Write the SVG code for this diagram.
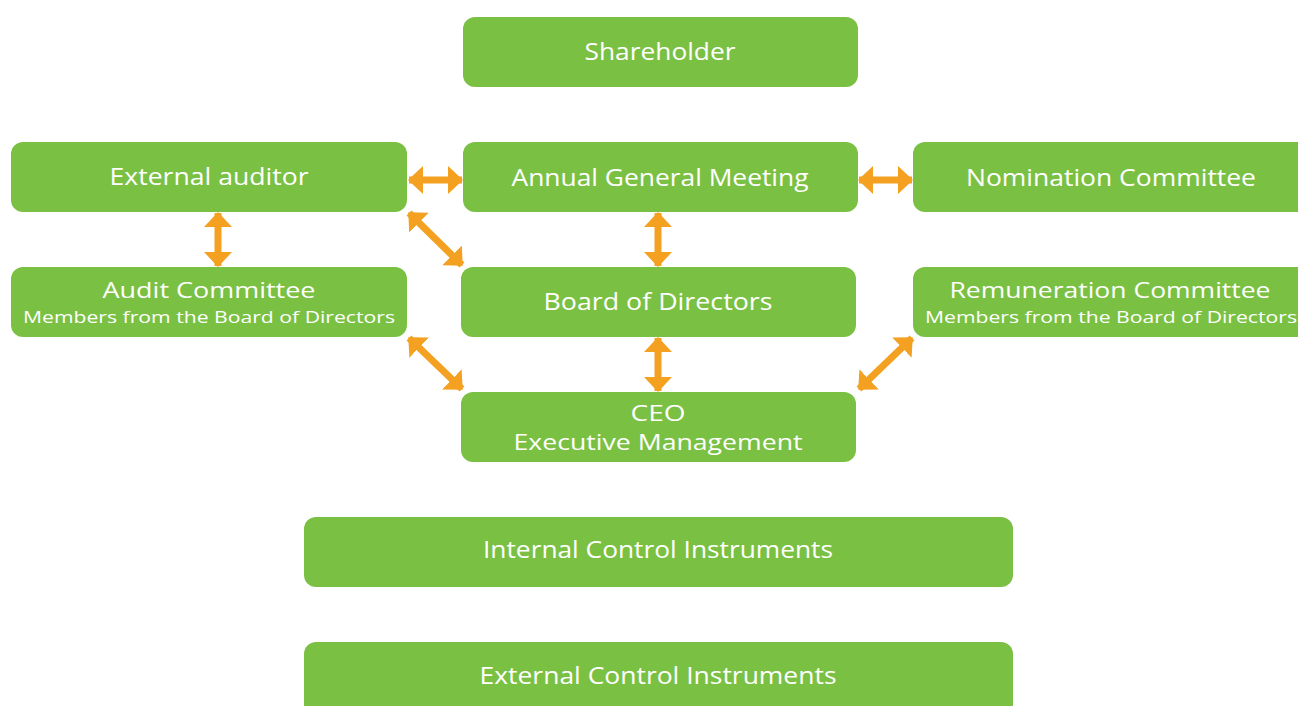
<svg xmlns="http://www.w3.org/2000/svg" width="1298" height="706" viewBox="0 0 1298 706">
<style>
.box{fill:#7AC143}
.t{font-family:"Open Sans","DejaVu Sans",sans-serif;font-size:23px;fill:#fff;text-anchor:middle;font-weight:500}
.t2{font-family:"Open Sans","DejaVu Sans",sans-serif;font-size:22px;fill:#fff;text-anchor:middle;font-weight:500}
.s{font-family:"Open Sans","DejaVu Sans",sans-serif;font-size:16.5px;fill:#fff;text-anchor:middle;font-weight:500}
.c{stroke:#F4A021;stroke-width:7;fill:none;marker-start:url(#ah);marker-end:url(#ah)}
</style>
<defs>
<marker id="ah" markerUnits="userSpaceOnUse" markerWidth="15" markerHeight="30" refX="14" refY="15" orient="auto-start-reverse" viewBox="0 0 15 30">
<path d="M0 1 L15 15 L0 29 Z" fill="#F4A021"/>
</marker>
</defs>
<rect width="1298" height="706" fill="#fff"/>
<g id="shareholder"><rect class="box" x="463" y="17" width="395" height="70" rx="12"/><text class="t" x="660" y="60" textLength="151" lengthAdjust="spacingAndGlyphs">Shareholder</text></g>
<g id="external-auditor"><rect class="box" x="11" y="142" width="396" height="70" rx="12"/><text class="t" x="209" y="185" textLength="199" lengthAdjust="spacingAndGlyphs">External auditor</text></g>
<g id="agm"><rect class="box" x="463" y="142" width="395" height="70" rx="12"/><text class="t" x="660" y="186" textLength="297" lengthAdjust="spacingAndGlyphs">Annual General Meeting</text></g>
<g id="nomination"><rect class="box" x="913" y="142" width="400" height="70" rx="12"/><text class="t" x="1111" y="186" textLength="290" lengthAdjust="spacingAndGlyphs">Nomination Committee</text></g>
<g id="audit-committee"><rect class="box" x="11" y="267" width="396" height="70" rx="12"/><text class="t2" x="209" y="298" textLength="213" lengthAdjust="spacingAndGlyphs">Audit Committee</text><text class="s" x="209" y="323" textLength="372" lengthAdjust="spacingAndGlyphs">Members from the Board of Directors</text></g>
<g id="board"><rect class="box" x="461" y="267" width="395" height="70" rx="12"/><text class="t" x="658" y="310" textLength="229" lengthAdjust="spacingAndGlyphs">Board of Directors</text></g>
<g id="remuneration"><rect class="box" x="913" y="267" width="400" height="70" rx="12"/><text class="t2" x="1110" y="298" textLength="321" lengthAdjust="spacingAndGlyphs">Remuneration Committee</text><text class="s" x="1111" y="323" textLength="372" lengthAdjust="spacingAndGlyphs">Members from the Board of Directors</text></g>
<g id="ceo"><rect class="box" x="461" y="392" width="395" height="70" rx="12"/><text class="t2" x="658" y="421" textLength="55" lengthAdjust="spacingAndGlyphs">CEO</text><text class="t2" x="658" y="450" textLength="289" lengthAdjust="spacingAndGlyphs">Executive Management</text></g>
<g id="internal-control"><rect class="box" x="304" y="517" width="709" height="70" rx="12"/><text class="t" x="658" y="558" textLength="350" lengthAdjust="spacingAndGlyphs">Internal Control Instruments</text></g>
<g id="external-control"><rect class="box" x="304" y="642" width="709" height="80" rx="12"/><text class="t" x="658" y="684" textLength="357" lengthAdjust="spacingAndGlyphs">External Control Instruments</text></g>
<g id="connectors">
<line class="c" x1="409" y1="180" x2="462" y2="180"/>
<line class="c" x1="859" y1="180" x2="912" y2="180"/>
<line class="c" x1="218" y1="213" x2="218" y2="266"/>
<line class="c" x1="658" y1="213" x2="658" y2="266"/>
<line class="c" x1="658" y1="338" x2="658" y2="391"/>
<line class="c" x1="409" y1="213" x2="462" y2="265"/>
<line class="c" x1="409" y1="338" x2="462" y2="389"/>
<line class="c" x1="912" y1="338" x2="859" y2="389"/>
</g>
</svg>
